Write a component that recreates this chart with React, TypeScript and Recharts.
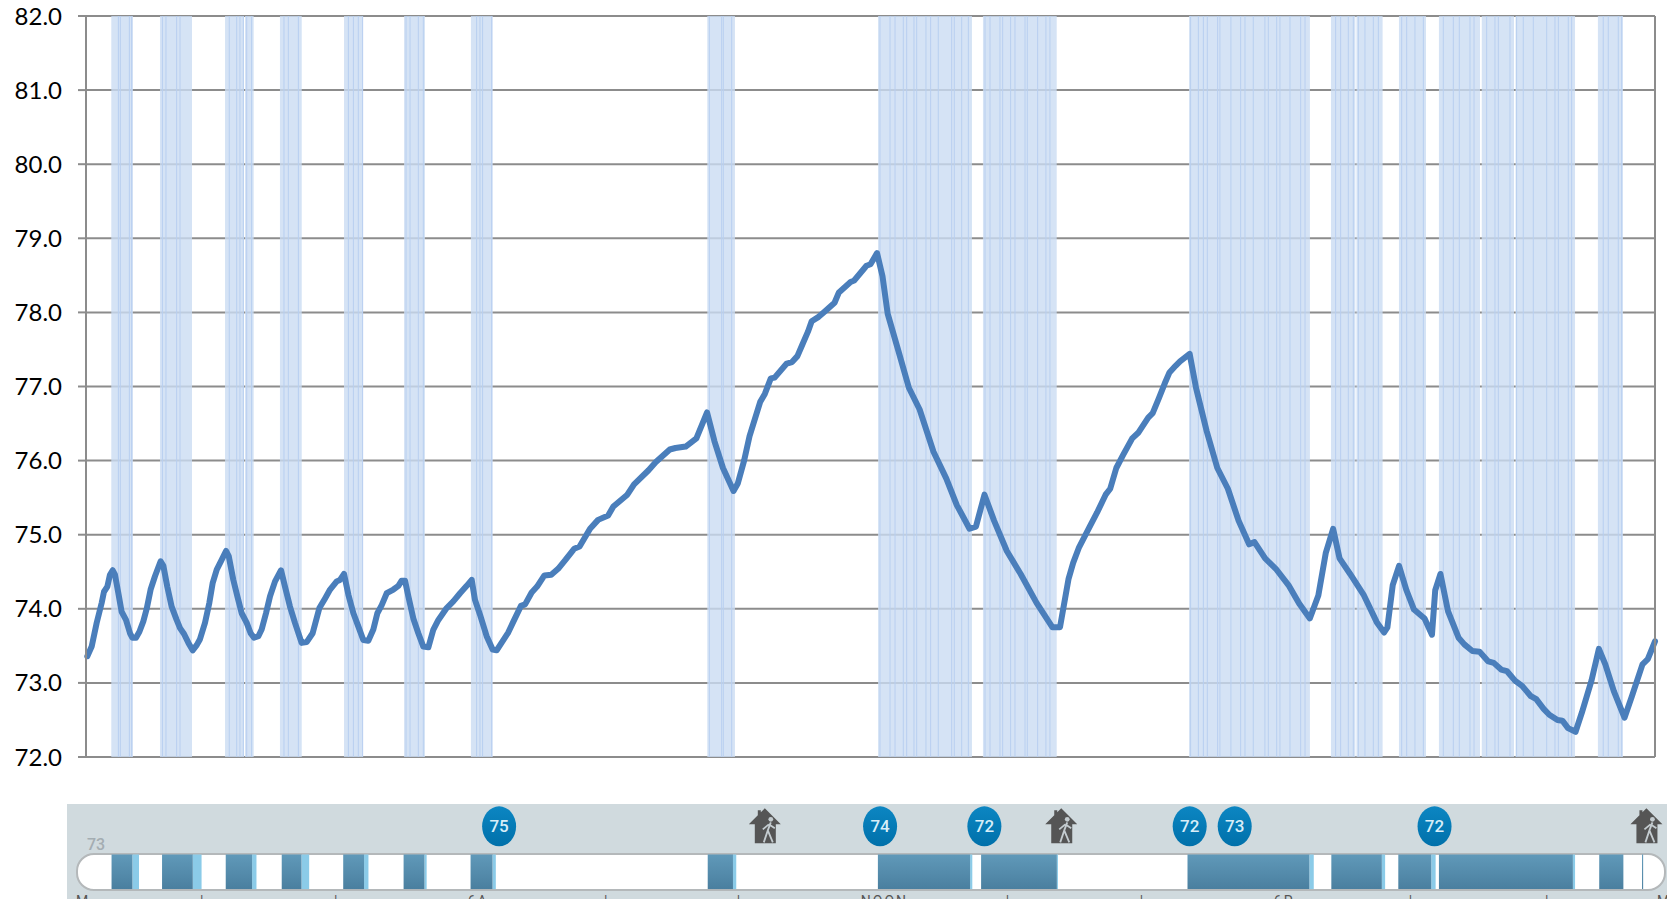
import {
  ComposedChart,
  Line,
  Scatter,
  XAxis,
  YAxis,
  CartesianGrid,
  ReferenceArea,
  ReferenceLine,
} from 'recharts';

// minutes since midnight
const tempMinutes = [
  1.2, 5.2, 9.8, 14.4, 16.5, 19.6, 22, 24.5, 26.6, 29.7, 32.7, 36.7, 40.4, 42.5, 45.9, 49, 52.6, 55.7, 59.3, 63.3,
  66.4, 68.5, 71, 74.6, 78.6, 83.2, 86.3, 90, 94, 97.9, 101.6, 104.6, 109.2, 113.2, 116.3, 120, 124.5, 128.5, 131,
  135.2, 138.9, 142.9, 147.5, 151.1, 154.2, 158.2, 161.2, 165.2, 168.9, 173.5, 179, 182.6, 187.2, 191.8, 197.9,
  202.5, 208, 214.2, 219.4, 224, 230.1, 233.1, 236.8, 240.8, 245.4, 250, 254.5, 259.1, 263.7, 267.4, 271.4, 276,
  282.1, 286.7, 289.7, 292.8, 295.8, 300.4, 305, 309.6, 314.2, 318.8, 323.4, 331, 337.1, 343.3, 349.4, 354, 357,
  361.6, 367.7, 373.2, 376.9,
  387.5, 392, 399.2, 403, 409, 414, 420.7, 427, 433.3, 440, 448, 453, 462.6, 470, 479.2, 484, 496.8, 503, 516.3, 523,
  535.8, 541, 550.4, 560.2, 570,
  576.8, 584.6, 594.3,
  598.2, 604, 609, 618.7, 623, 628.5, 632, 643.1, 648, 652.9, 657, 662.6, 666, 672.4, 677, 687, 691, 701.7, 705, 716.3,
  720, 726,
  731, 735.8, 745.6, 755.3, 765.1, 777.8, 789.5, 799.2, 810.9, 816.8, 824.6, 833.4, 845.1, 857.8, 872.4, 887,
  893.9, 901.7, 906, 911.4, 916, 921.2, 928, 935.8, 940, 945.6, 952, 960.2, 966, 974.9, 979, 984.6, 990, 994.4, 1000,
  1004.1, 1012.9,
  1018.8, 1028.5, 1038.3, 1048, 1057.8, 1067.5, 1072.4, 1082.2, 1092, 1103.6, 1113.4, 1123.2, 1131, 1137.8, 1144.6,
  1150.5, 1160.2, 1172.9, 1184.6, 1191.4, 1194.4, 1199.3, 1205.1, 1211.9, 1218.8, 1228.5, 1235.3, 1238.3, 1243.1, 1250,
  1259.7, 1265, 1272.4, 1279, 1287, 1292, 1298.8, 1304, 1311.5, 1318, 1326.1, 1331, 1337.8, 1343, 1350.5, 1355, 1360.2,
  1367.1,
  1372.9, 1381.7, 1388.5, 1394.4, 1402.2, 1412, 1418.8, 1428.5, 1433.4, 1440,
];
const tempValues = [
  73.36, 73.49, 73.81, 74.08, 74.23, 74.3, 74.46, 74.52, 74.46, 74.21, 73.96, 73.85, 73.67, 73.61, 73.61, 73.69, 73.83,
  74.0, 74.26, 74.44, 74.56, 74.64, 74.58, 74.3, 74.03, 73.85, 73.74, 73.66, 73.54, 73.44, 73.51, 73.59, 73.81, 74.08,
  74.35, 74.53, 74.66, 74.78, 74.71, 74.39, 74.17, 73.94, 73.81, 73.67, 73.61, 73.63, 73.72, 73.94, 74.17, 74.37,
  74.52, 74.3, 74.03, 73.81, 73.54, 73.55, 73.67, 74.01, 74.14, 74.26, 74.37, 74.39, 74.47, 74.19, 73.94, 73.76,
  73.58, 73.57, 73.72, 73.94, 74.05, 74.21, 74.26, 74.31, 74.38, 74.38, 74.17, 73.87, 73.67, 73.49, 73.48, 73.72,
  73.85, 74.01, 74.1, 74.21, 74.31, 74.39, 74.12, 73.92, 73.63, 73.45, 73.44,
  73.68, 73.82, 74.04, 74.06, 74.22, 74.3, 74.45, 74.46, 74.54, 74.66, 74.81, 74.84, 75.08, 75.2, 75.26, 75.38, 75.54,
  75.68, 75.87, 75.98, 76.15, 76.17, 76.19, 76.3, 76.65,
  76.26, 75.9, 75.59,
  75.69, 76.0, 76.33, 76.79, 76.9, 77.11, 77.12, 77.31, 77.33, 77.41, 77.55, 77.74, 77.88, 77.94, 78.0, 78.13, 78.27,
  78.41, 78.43, 78.63, 78.65, 78.8,
  78.49, 77.98, 77.48, 76.98, 76.69, 76.12, 75.76, 75.4, 75.08, 75.11, 75.54, 75.19, 74.78, 74.47, 74.08, 73.75,
  73.75, 74.4, 74.62, 74.83, 74.96, 75.11, 75.3, 75.54, 75.62, 75.9, 76.08, 76.3, 76.38, 76.58, 76.64, 76.84, 77.04,
  77.19, 77.28, 77.34, 77.44,
  76.98, 76.4, 75.9, 75.62, 75.19, 74.87, 74.9, 74.68, 74.54, 74.32, 74.07, 73.87, 74.18, 74.75, 75.08, 74.68, 74.47,
  74.18, 73.82, 73.68, 73.75, 74.32, 74.58, 74.25, 73.99, 73.87, 73.65, 74.25, 74.47, 73.97,
  73.61, 73.52, 73.43, 73.42, 73.29, 73.27, 73.18, 73.16, 73.03, 72.96, 72.82, 72.78, 72.65, 72.57, 72.5, 72.49, 72.39,
  72.34,
  72.6, 73.03, 73.46, 73.25, 72.89, 72.53, 72.82, 73.25, 73.32, 73.56,
];

const tempTicks = [72, 73, 74, 75, 76, 77, 78, 79, 80, 81, 82];
const rightTicks = [0, 1, 2, 3, 4, 5, 6, 7, 8];

const coolingRuns = [
  [23.2, 43.1], [67.9, 97.3], [127.6, 145], [145.9, 153.9], [178, 198], [236.8, 254.2], [291.9, 311.1], [353.3, 373.3],
  [570.2, 595.6], [726.9, 813.1], [823.2, 890.9], [1012.3, 1123.3], [1142.6, 1165], [1166, 1190], [1205, 1229.8],
  [1241.7, 1279.4], [1281, 1310.6], [1312, 1366.6], [1387.6, 1410.6],
];
const coolingSamples = [
  29.7, 31.5, 39.8, 41.9, 70.1, 73.4, 83.2, 86.3, 131.5, 138.3, 141.3, 144.4, 147.5, 152, 181.7, 185.7, 194.9, 240.8,
  245.4, 249.9, 253.9, 293.7, 297.4, 305, 309.6, 358.5, 361.6, 364, 372.3, 572.1, 583.4, 584.9, 592.6, 728.7, 737.9,
  742.5, 750.1, 753.2, 759.9, 762.4, 770.9, 775.2, 782.2, 794.5, 796.9, 803.7, 809.8, 825.1, 829.7, 838.8, 841.3,
  848.6, 852.6, 861.8, 863.9, 873.4, 881, 884.7, 1013.8, 1020.9, 1025.5, 1029.1, 1038.6, 1040.7, 1050.8, 1059.7,
  1063.7, 1071.3, 1082, 1085.1, 1092.8, 1095.8, 1105, 1114.8, 1118.8, 1146.9, 1151.5, 1158.5, 1163.1, 1167.7, 1173.8,
  1181.5, 1186.1, 1207.5, 1212.1, 1219.7, 1227.4, 1245.7, 1254.9, 1260.4, 1270.2, 1273.9, 1285.5, 1293.1, 1296.2,
  1306.9, 1313, 1319.1, 1328.3, 1340.6, 1348.2, 1351.3, 1360.4, 1363.5, 1392.5, 1397.1, 1406.3, 1409.4,
];

// thermostat strip: start, end of dark run, end of fading run
const stripRuns = [
  [26, 45, 51], [72, 100, 108], [130, 154, 158], [181, 199, 206], [237, 256, 260], [292, 311, 313], [353, 373, 376],
  [569, 592, 595], [724, 808, 810], [818, 887, 888], [1006, 1117, 1121], [1137, 1183, 1186], [1198, 1228, 1232],
  [1235, 1357, 1359], [1381, 1403, 1403], [1420, 1421, 1421],
];
const setpointMinutes = [379, 726, 821, 1008, 1049, 1231];
const setpointLabels = ['75', '74', '72', '72', '73', '72'];
const awayMinutes = [621, 891, 1424];
const stripTickMinutes = [0, 109, 231, 360, 477, 598, 730, 843, 965, 1094, 1210, 1334, 1440];
const stripTickLabels = ['M', '|', '|', '6A', '|', '|', 'NOON', '|', '|', '6P', '|', '|', 'M'];

const tempRows = tempMinutes.map((minute, i) => ({ minute, temp: tempValues[i] }));
const setpointRows = setpointMinutes.map((minute, i) => ({ minute, lane: 0.74, label: setpointLabels[i] }));
const awayRows = awayMinutes.map((minute) => ({ minute, lane: 0.74 }));

const GRID = '#8c8c8c';

function SetpointBadge({ cx, cy, payload }: any) {
  return (
    <g>
      <ellipse cx={cx} cy={cy} rx={17} ry={20} fill="url(#badgeGrad)" />
      <text x={cx} y={cy + 6} textAnchor="middle" fontFamily="Roboto" fontSize={17} fontWeight={500} fill="#d8eef8">
        {payload.label}
      </text>
    </g>
  );
}

function AwayIcon({ cx, cy }: any) {
  return (
    <g transform={`translate(${cx},${cy})`}>
      <path d="M0,-18 L16,-2 L11,-2 L11,17 L-10,17 L-10,-2 L-16,-2 L-7,-11 L-7,-16 L-4,-16 L-4,-14 Z" fill="#555" />
      <circle cx={6} cy={-7} r={2.4} fill="#c4ccd0" />
      <path d="M6,-4 L3,4 L-1,16 M3,4 L8,16 M4,-2 L10,2 M4,-2 L-2,3" stroke="#c4ccd0" strokeWidth={1.8} fill="none" />
    </g>
  );
}

export default function App() {
  return (
    <div style={{ position: 'absolute', left: 0, top: 0, width: 1667, height: 899, overflow: 'hidden', background: '#fff' }}>
      <ComposedChart
        width={1667}
        height={899}
        data={tempRows}
        margin={{ top: 16, right: 0, left: 0, bottom: 142 }}
        style={{ position: 'absolute', left: 0, top: 0 }}
      >
        <CartesianGrid yAxisId="temp" vertical={false} stroke={GRID} strokeWidth={2} />
        <XAxis
          dataKey="minute"
          type="number"
          domain={[0, 1440]}
          height={0}
          tick={false}
          tickLine={false}
          axisLine={{ stroke: GRID, strokeWidth: 2 }}
        />
        <YAxis
          yAxisId="temp"
          width={86}
          domain={[72, 82]}
          ticks={tempTicks}
          interval={0}
          tickSize={8}
          tickMargin={16}
          tick={{ fontSize: 24, fontFamily: 'Lato', fill: '#000' }}
          tickLine={{ stroke: GRID, strokeWidth: 2 }}
          axisLine={{ stroke: GRID, strokeWidth: 2 }}
          tickFormatter={(v) => v.toFixed(1)}
        />
        <YAxis
          yAxisId="right"
          orientation="right"
          width={12}
          domain={[0, 8]}
          ticks={rightTicks}
          interval={0}
          tickSize={8}
          tick={false}
          tickLine={{ stroke: GRID, strokeWidth: 2 }}
          axisLine={{ stroke: GRID, strokeWidth: 2 }}
        />
        {coolingRuns.map(([from, to]) => (
          <ReferenceArea key={from} yAxisId="temp" x1={from} x2={to} fill="#cbdcf3" fillOpacity={0.8} stroke="none" />
        ))}
        {coolingSamples.map((m) => (
          <ReferenceLine key={m} yAxisId="temp" x={m} stroke="#b8cff0" strokeWidth={1} />
        ))}
        <Line
          yAxisId="temp"
          type="linear"
          dataKey="temp"
          stroke="#4a7ebb"
          strokeWidth={6}
          strokeLinejoin="round"
          strokeLinecap="round"
          dot={false}
          isAnimationActive={false}
        />
      </ComposedChart>

      <div style={{ position: 'absolute', left: 67, top: 804, width: 1600, height: 95, background: '#d0dade' }} />
      <div
        style={{
          position: 'absolute',
          left: 76,
          top: 853,
          width: 1586,
          height: 34,
          background: '#fff',
          border: '2px solid #b4b8ba',
          borderRadius: 18,
        }}
      />
      <span
        style={{
          position: 'absolute',
          left: 87,
          top: 835,
          fontFamily: 'Roboto',
          fontSize: 16,
          fontWeight: 500,
          color: '#a4adb2',
        }}
      >
        73
      </span>

      <ComposedChart
        width={1600}
        height={115}
        margin={{ top: 0, right: 3, left: 16, bottom: 0 }}
        style={{ position: 'absolute', left: 67, top: 804 }}
      >
        <defs>
          <linearGradient id="stripGrad" x1="0" y1="0" x2="0" y2="1">
            <stop offset="0%" stopColor="#6099b9" />
            <stop offset="100%" stopColor="#4a7f9f" />
          </linearGradient>
          <linearGradient id="badgeGrad" x1="0" y1="0" x2="0" y2="1">
            <stop offset="0%" stopColor="#0c86c2" />
            <stop offset="100%" stopColor="#0070aa" />
          </linearGradient>
        </defs>
        <XAxis
          dataKey="minute"
          type="number"
          domain={[0, 1440]}
          ticks={stripTickMinutes}
          interval={0}
          height={29}
          tickLine={false}
          axisLine={false}
          tickMargin={0}
          tick={{ fontSize: 14, fontFamily: 'Roboto', fill: '#555', letterSpacing: 2 }}
          tickFormatter={(v) => stripTickLabels[stripTickMinutes.indexOf(v)]}
        />
        <YAxis dataKey="lane" type="number" domain={[0, 1]} hide />
        {stripRuns.map(([from, dark, fade]) => (
          <ReferenceArea key={from} x1={dark} x2={fade} y1={0.011} y2={0.413} fill="#8bcbe8" fillOpacity={1} stroke="none" />
        ))}
        {stripRuns.map(([from, dark]) => (
          <ReferenceArea key={from} x1={from} x2={dark} y1={0.011} y2={0.413} fill="url(#stripGrad)" fillOpacity={1} stroke="none" />
        ))}
        <Scatter data={setpointRows} shape={<SetpointBadge />} isAnimationActive={false} />
        <Scatter data={awayRows} shape={<AwayIcon />} isAnimationActive={false} />
      </ComposedChart>
    </div>
  );
}
